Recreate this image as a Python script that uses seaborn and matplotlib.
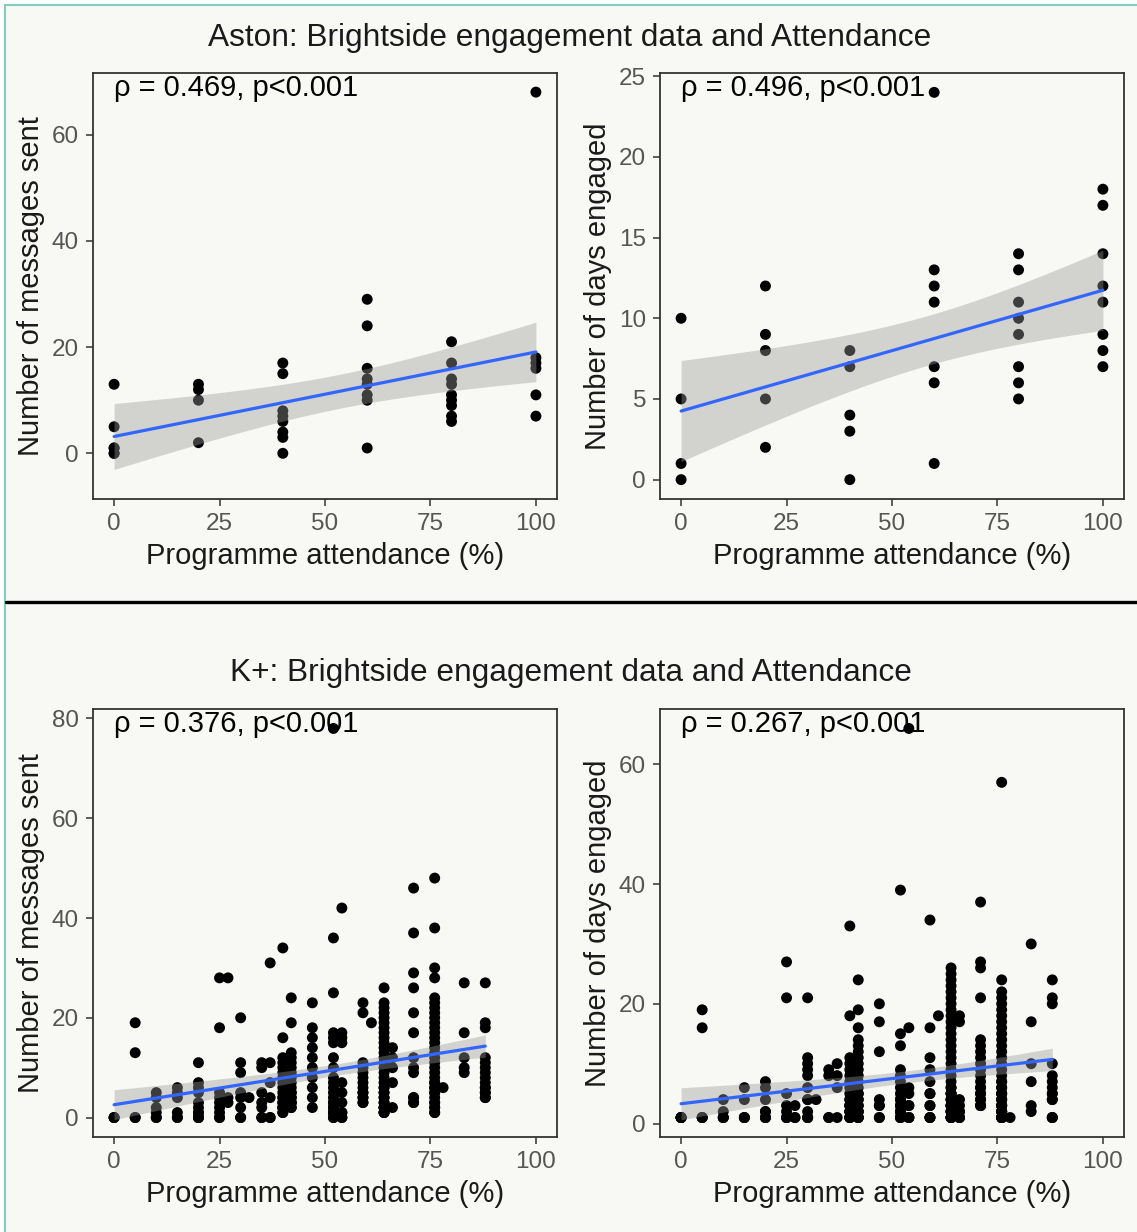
import matplotlib
matplotlib.use("Agg")
import matplotlib.pyplot as plt
from matplotlib.lines import Line2D
from matplotlib.patches import Rectangle
import matplotlib.transforms as mtransforms
import numpy as np
import pandas as pd
import seaborn as sns

# ---------------- data ----------------
x_ticks = [0, 25, 50, 75, 100]
x_label = "Programme attendance (%)"

aston_title = "Aston: Brightside engagement data and Attendance"
kplus_title = "K+: Brightside engagement data and Attendance"

# attendance (%) -> values (overplotted low values estimated)
aston_messages = {
    0: [0, 0, 1, 1, 5, 13],
    20: [2, 10, 12, 13],
    40: [0, 3, 4, 6, 7, 8, 15, 17],
    60: [1, 10, 11, 13, 14, 16, 24, 29],
    80: [6, 7, 9, 10, 11, 13, 14, 17, 21],
    100: [7, 11, 16, 17, 18, 68],
}
aston_days = {
    0: [0, 1, 5, 10],
    20: [2, 5, 8, 9, 12],
    40: [0, 3, 4, 7, 8],
    60: [1, 6, 7, 11, 12, 13, 24],
    80: [5, 6, 7, 9, 10, 11, 13, 14],
    100: [7, 8, 9, 11, 12, 14, 17, 18],
}
kplus_messages = {
    0: [0, 0, 0],
    5: [0, 0, 13, 19],
    10: [0, 0, 1, 2, 4, 5],
    15: [0, 0, 1, 4, 5, 6],
    20: [0, 0, 0, 1, 1, 2, 3, 5, 6, 7, 11],
    25: [0, 0, 1, 2, 3, 4, 5, 18, 28],
    27: [3, 4, 28],
    30: [0, 0, 2, 4, 5, 9, 11, 20],
    32: [4],
    35: [0, 0, 2, 3, 5, 10, 11],
    37: [0, 0, 4, 7, 11, 31],
    40: [1, 1, 2, 2, 2, 3, 3, 4, 4, 5, 6, 7, 8, 9, 10, 11, 12, 16, 34],
    42: [2, 2, 3, 3, 3, 4, 4, 5, 5, 6, 7, 8, 9, 10, 11, 12, 13, 19, 24],
    47: [2, 4, 6, 8, 10, 12, 14, 16, 18, 23],
    52: [0, 0, 1, 1, 1, 2, 2, 3, 3, 4, 5, 6, 7, 8, 10, 12, 15, 16, 17, 25, 36, 78],
    54: [0, 0, 1, 1, 3, 5, 7, 15, 16, 17, 42],
    59: [3, 3, 4, 4, 5, 5, 6, 7, 8, 9, 10, 11, 21, 23],
    61: [19],
    64: [1, 1, 1, 2, 2, 2, 3, 3, 4, 4, 5, 5, 6, 6, 7, 8, 9, 10, 11, 12, 13, 14, 15, 16,
         17, 18, 19, 20, 21, 22, 23, 26],
    66: [2, 7, 10, 12, 14],
    71: [3, 3, 4, 4, 9, 10, 12, 17, 21, 26, 29, 37, 46],
    76: [1, 1, 2, 2, 3, 3, 4, 5, 5, 6, 6, 7, 7, 8, 9, 10, 11, 12, 13, 14,
         15, 16, 17, 18, 19, 20, 21, 22, 23, 24, 28, 30, 38, 48],
    78: [6],
    83: [9, 10, 12, 17, 27],
    88: [4, 4, 5, 5, 6, 6, 7, 8, 9, 10, 11, 12, 18, 19, 27],
}
kplus_days = {
    0: [1, 1, 1, 1, 1],
    5: [1, 1, 1, 16, 19],
    10: [1, 1, 1, 2, 4],
    15: [1, 1, 1, 4, 6],
    20: [1, 1, 1, 2, 2, 4, 6, 7],
    25: [1, 1, 1, 2, 3, 5, 21, 27],
    27: [1, 1, 3],
    30: [1, 1, 1, 2, 4, 4, 6, 8, 9, 10, 11, 21],
    32: [4],
    35: [1, 1, 8, 9],
    37: [1, 6, 8, 10],
    40: [1, 1, 1, 1, 2, 2, 2, 3, 3, 3, 4, 4, 5, 6, 7, 8, 9, 10, 11, 18, 33],
    42: [1, 1, 1, 1, 2, 2, 2, 3, 3, 4, 4, 5, 5, 6, 7, 8, 9, 10, 11, 12, 13, 14, 16, 19, 24],
    47: [1, 1, 3, 3, 4, 12, 17, 20],
    52: [1, 1, 1, 2, 2, 2, 3, 3, 4, 4, 5, 6, 7, 8, 9, 13, 15, 39],
    54: [1, 1, 1, 3, 3, 5, 6, 16, 66],
    59: [1, 1, 1, 3, 3, 5, 5, 7, 9, 11, 16, 34],
    61: [18],
    64: [1, 1, 1, 1, 1, 2, 2, 2, 2, 3, 3, 3, 3, 4, 4, 4, 5, 5, 5, 6, 6, 7, 8, 9, 10, 11,
         12, 13, 14, 15, 16, 17, 18, 19, 20, 21, 22, 23, 24, 25, 26],
    66: [1, 1, 1, 2, 2, 3, 4, 17, 18],
    71: [3, 3, 3, 4, 4, 5, 5, 6, 6, 7, 8, 9, 10, 11, 12, 13, 14, 21, 26, 27, 37],
    76: [1, 1, 1, 1, 1, 1, 2, 2, 2, 2, 2, 3, 3, 3, 3, 4, 4, 4, 5, 5, 5, 6, 6, 7, 7, 8, 9,
         10, 11, 12, 13, 14, 15, 16, 17, 18, 19, 20, 21, 22, 24, 57],
    78: [1],
    83: [2, 3, 7, 10, 17, 30],
    88: [1, 1, 1, 4, 4, 5, 5, 6, 7, 8, 10, 20, 21, 24],
}

rho_labels = ["\u03c1 = 0.469, p<0.001", "\u03c1 = 0.496, p<0.001",
              "\u03c1 = 0.376, p<0.001", "\u03c1 = 0.267, p<0.001"]
y_labels = ["Number of messages sent", "Number of days engaged",
            "Number of messages sent", "Number of days engaged"]
y_ticks = [[0, 20, 40, 60], [0, 5, 10, 15, 20, 25], [0, 20, 40, 60, 80], [0, 20, 40, 60]]
y_limits = [(-8.6, 71.6), (-1.2, 25.2), (-3.9, 81.9), (-2.25, 69.25)]

# ---------------- style ----------------
BG = "#f8f8f4"
sns.set_theme(style="white")
plt.rcParams["font.family"] = ["Liberation Sans", "DejaVu Sans"]

W, H = 1137, 1232
fig = plt.figure(figsize=(W / 100, H / 100), dpi=100)
fig.patch.set_facecolor("white")
fig.patches.append(Rectangle((5 / W, 0), 1 - 5 / W, 1 - 5 / H, transform=fig.transFigure,
                             facecolor=BG, edgecolor="none", zorder=-10))
fig.add_artist(Line2D([5 / W, 5 / W], [0, 1 - 5 / H], transform=fig.transFigure,
                      color="#7fcfbf", lw=1.5))
fig.add_artist(Line2D([5 / W, 1], [1 - 5 / H, 1 - 5 / H], transform=fig.transFigure,
                      color="#7fcfbf", lw=1.5))
fig.add_artist(Line2D([6 / W, 1], [1 - 602 / H, 1 - 602 / H], transform=fig.transFigure,
                      color="black", lw=2.4))


def px_axes(l, t, r, b):
    return fig.add_axes([l / W, 1 - b / H, (r - l) / W, (b - t) / H])


boxes = [(93, 73, 557, 499), (660, 73, 1124, 499),
         (93, 709, 557, 1137), (660, 709, 1124, 1137)]
datasets = [aston_messages, aston_days, kplus_messages, kplus_days]


def to_frame(d):
    rows = [(k, v) for k, vals in d.items() for v in vals]
    return pd.DataFrame(rows, columns=["attendance", "value"])


def t975(df):
    z = 1.959964
    g1 = (z ** 3 + z) / 4
    g2 = (5 * z ** 5 + 16 * z ** 3 + 3 * z) / 96
    return z + g1 / df + g2 / df ** 2


def lm_band(x, y):
    """Classic (ggplot-style) 95% confidence band of a linear fit."""
    n = len(x)
    b1, b0 = np.polyfit(x, y, 1)
    grid = np.linspace(x.min(), x.max(), 100)
    yhat = b0 + b1 * grid
    resid = y - (b0 + b1 * x)
    s2 = np.sum(resid ** 2) / (n - 2)
    sxx = np.sum((x - x.mean()) ** 2)
    se = np.sqrt(s2 * (1 / n + (grid - x.mean()) ** 2 / sxx))
    t = t975(n - 2)
    return grid, yhat - t * se, yhat + t * se


for i, (box, data) in enumerate(zip(boxes, datasets)):
    ax = px_axes(*box)
    ax.set_facecolor(BG)
    df = to_frame(data)
    sns.regplot(data=df, x="attendance", y="value", ax=ax, ci=None,
                color="#3366FF",
                scatter_kws=dict(s=62, color="black", edgecolor="none", alpha=1, zorder=2),
                line_kws=dict(color="#3366FF", lw=2.3, zorder=4))
    g, lo, hi = lm_band(df["attendance"].to_numpy(float), df["value"].to_numpy(float))
    ax.fill_between(g, lo, hi, color="#999999", alpha=0.4, lw=0, zorder=3)
    ax.set_xlim(-5, 105)
    ax.set_ylim(*y_limits[i])
    ax.set_xticks(x_ticks)
    ax.set_yticks(y_ticks[i])
    ax.set_xlabel(x_label, fontsize=21, color="#1a1a1a", labelpad=5)
    ax.set_ylabel(y_labels[i], fontsize=21, color="#1a1a1a", labelpad=5)
    ax.tick_params(axis="both", which="major", length=5, width=1.1, color="#333333",
                   labelsize=17.5, labelcolor="#555555", pad=5, bottom=True, left=True)
    for sp in ax.spines.values():
        sp.set_visible(True)
        sp.set_color("#333333")
        sp.set_linewidth(1.3)
    trans = mtransforms.blended_transform_factory(ax.transData, ax.transAxes)
    ax.text(0, 0.997, rho_labels[i], transform=trans, ha="left", va="top",
            fontsize=21, color="black", zorder=6)

fig.text(570 / W, 1 - 38 / H, aston_title, ha="center", va="center", fontsize=22.8, color="#1a1a1a")
fig.text(571 / W, 1 - 673 / H, kplus_title, ha="center", va="center", fontsize=22.8, color="#1a1a1a")

fig.savefig("out.png", dpi=100, facecolor=fig.get_facecolor())
